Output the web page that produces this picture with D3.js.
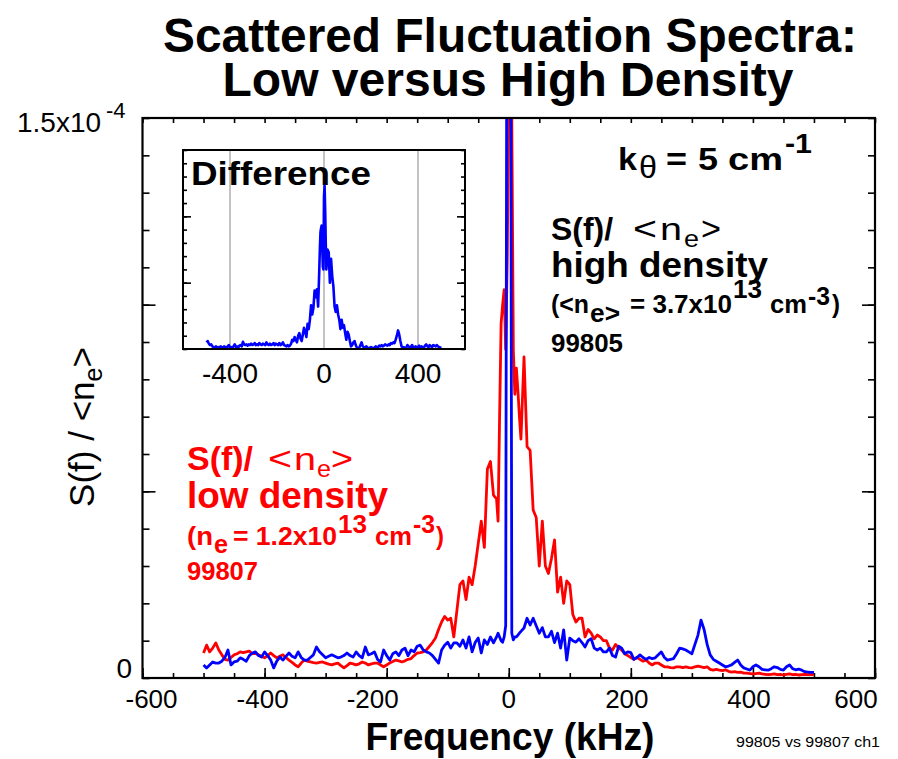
<!DOCTYPE html>
<html><head><meta charset="utf-8">
<script src="https://cdn.jsdelivr.net/npm/d3@7"></script>
<style>
html,body{margin:0;padding:0;background:#fff;}
svg{display:block;font-family:"Liberation Sans",Arial,Helvetica,sans-serif;}
</style>
</head><body>
<svg id="chart" width="898" height="759"></svg>
<script>
// ---------------- DATA ----------------
// frequency grid (kHz): 5 kHz steps, 2.5 kHz steps around the central peak
const freq = d3.range(-500, -20, 5).concat(d3.range(-20, 20, 2.5), d3.range(20, 505, 5));
// S(f)/<ne>, low density shot 99807 (units of 1e-6)
const lowDensity = [
  6.7, 8.8, 7, 8, 9.4, 7.5, 6.2, 5, 4.8, 5.5,
  6.2, 6.5, 7, 6.8, 7, 7.2, 6.5, 6.6, 6.2, 5.8,
  5.4, 6, 6.7, 6, 5.4, 5.8, 6.2, 5.5, 4.8, 4.2,
  3.5, 3, 4, 4.8, 4.5, 4.3, 4.1, 4, 4.2, 4.3,
  4, 3.7, 3.5, 3.8, 4, 3.3, 2.7, 3.3, 4, 3.8,
  3.5, 3.8, 4.3, 4, 3.5, 3.8, 4, 4, 3.5, 3,
  3.5, 4, 4.4, 4.8, 4.6, 4.3, 4.6, 5, 5.2, 6,
  6.7, 6.8, 7, 7.5, 8.5, 9.5, 10.7, 13, 15, 16.5,
  15.5, 16, 11, 18, 25, 26, 21, 27, 25, 30,
  36, 42, 35, 56, 58, 49,
  48, 42, 70, 95, 100, 104, 88, 112, 155, 160, 150, 88, 76, 83, 77, 70,
  64, 86, 62, 61, 45, 43,
  30, 42, 30, 28, 32, 37, 23, 27, 20, 26,
  25, 17, 15, 16, 16, 11, 13, 12, 10.5, 11.5,
  11, 10, 10, 8, 7.5, 9, 8, 7.5, 6.5, 6,
  5.5, 5, 5.5, 5, 4.5, 4.8, 4, 3.5, 4, 4,
  3.5, 3, 3, 2.8, 2.7, 3, 3, 2.8, 3, 2.8,
  2.7, 3, 3.2, 3, 2.8, 3, 2.3, 2.1, 2.3, 2.1,
  2, 2.2, 1.8, 1.6, 1.7, 1.5, 1.6, 1.3, 1.3, 1.2,
  1.1, 1.2, 1.3, 1.1, 1, 0.9, 1, 1.1, 0.9, 1,
  0.8, 1, 1.1, 0.9, 1, 0.8, 0.9, 1, 0.9, 1,
  0.9
];
// S(f)/<ne>, high density shot 99805 (units of 1e-6)
const highDensity = [
  3.5, 2.7, 3.5, 4.3, 4, 4, 4.5, 5.5, 7.5, 3.5,
  4.3, 4.5, 5.4, 5, 4.5, 6, 6.7, 7, 6, 5.6,
  7, 6, 4.8, 2.7, 4.5, 5.6, 4.8, 5.8, 6.7, 5.8,
  5.4, 7, 5.5, 4.8, 4.8, 5.5, 6.2, 8.3, 7, 6.2,
  5.4, 5.8, 6.2, 5.8, 5.4, 5.6, 6, 6.7, 6, 5.6,
  7, 6, 5.4, 8.3, 6.2, 6.5, 7, 5, 4.3, 7.5,
  6, 4.8, 6.5, 7, 6, 7.5, 8, 6, 7.5, 7,
  8.5, 8.8, 7.5, 7, 6.7, 6, 5, 4, 7.5, 8.8,
  9.6, 8, 9.4, 9.4, 8.5, 10.2, 8, 11, 7, 9.5,
  10.7, 6.7, 10.2, 9, 11, 9.4,
  11, 12, 11, 10, 9.6, 11, 14, 240, 240, 240, 12, 10.2, 11, 11, 11.5, 12,
  12.5, 13.4, 16, 14.2, 16, 14,
  12, 13.5, 11, 11, 12.5, 9.5, 12, 8, 12.9, 4.8,
  10.7, 10, 9.6, 10.5, 9.5, 8.3, 10, 10.5, 8, 7.5,
  8, 7, 7, 8, 6, 5.6, 8.5, 8, 6.5, 7,
  6.8, 5, 5.5, 6.2, 5.5, 5, 5.5, 5.2, 5.4, 6.2,
  7, 5.5, 4.8, 5, 5.2, 6.5, 8, 7.8, 7.5, 7,
  6.5, 9, 11.5, 15.5, 13, 9, 6.2, 5, 4.5, 4,
  3.5, 3, 3.2, 3.5, 4.2, 4.8, 3.5, 2.7, 2.4, 2.1,
  3, 3.5, 3, 2.3, 2.2, 2.1, 2.5, 3, 2.8, 2.3,
  2.1, 3, 3.5, 2.5, 2.2, 2.4, 2.1, 1.7, 1.6, 1.5,
  1.5
];
// inset "Difference" spectrum (arbitrary units)
const difference = [
  0.5, 0.6, 0.4, 0.3, 0.35, 0.2, 0.15, 0.1, 0.2, 0.1,
  0.15, 0.1, 0.2, 0.15, 0.1, 0.2, 0.15, 0.1, 0.2, 0.3,
  0.1, 0.15, 0.1, 0.2, 0.35, 0.15, 0.2, 0.1, 0.25, 0.3,
  0.2, 0.55, 0.35, 0.3, 0.35, 0.25, 0.35, 0.3, 0.4, 0.3,
  0.35, 0.45, 0.3, 0.35, 0.3, 0.45, 0.35, 0.3, 0.4, 0.35,
  0.3, 0.5, 0.35, 0.3, 0.4, 0.3, 0.35, 0.45, 0.3, 0.4,
  0.35, 0.3, 0.45, 0.3, 0.35, 0.5, 0.3, 0.25, 0.2, 0.3,
  0.2, 0.25, 0.4, 0.7, 0.6, 0.9, 0.7, 0.5, 1.0, 1.2,
  0.8, 0.6, 1.1, 1.6, 1.3, 0.9, 1.9, 1.5, 2.2, 3.3,
  2.6, 3.1, 4.4, 3.9, 4.5, 3.2,
  6, 7.6, 8.8, 9.1, 9.3, 7.8, 6.2, 6.0, 11.5, 12.3, 10.5, 8, 6, 6.6, 7.5, 7.4,
  7.3, 5, 6.8, 5.5, 4.7, 3.2,
  2.8, 3.3, 2.6, 2.2, 1.5, 2.2, 1.6, 1.8, 1.2, 0.7,
  1.3, 1.1, 0.6, 0.2, 0.3, 0.5, 0.6, 0.3, 0.1, 0.05,
  0.1, 0.3, 0.5, 0.2, 0.15, 0.1, 0.2, 0.1, 0.05, 0.1,
  0.15, 0.1, 0.05, 0.1, 0.2, 0.1, 0.15, 0.25, 0.2, 0.3,
  0.2, 0.25, 0.35, 0.3, 0.25, 0.35, 0.3, 0.45, 0.4, 0.5,
  0.45, 0.7, 1.0, 1.4, 1.1, 0.6, 0.2, 0.1, 0.15, 0.05,
  0.1, 0.3, 0.2, 0.1, 0.15, 0.3, 0.1, 0.15, 0.2, 0.1,
  0.15, 0.25, 0.1, 0.2, 0.15, 0.1, 0.25, 0.35, 0.2, 0.15,
  0.3, 0.2, 0.15, 0.3, 0.25, 0.2, 0.3, 0.2, 0.15, 0.1,
  0.1
];
const xTickLabels = [-600, -400, -200, 0, 200, 400, 600];
const insetTickLabels = [-400, 0, 400];

if (lowDensity.length !== freq.length || highDensity.length !== freq.length || difference.length !== freq.length) {
  throw new Error("length mismatch " + freq.length + " " + lowDensity.length + " " + highDensity.length + " " + difference.length);
}

// ---------------- LAYOUT ----------------
const W = 898, H = 759;
const M = {left: 142.5, right: 875, top: 118, bottom: 678};
const I = {left: 183, right: 465, top: 150, bottom: 349};
// horizontal nudges of x tick labels as placed in the original figure
const xLabelNudge = {"-600": 9, "-400": -2, "-200": -14, "0": 0, "200": -4, "400": -4, "600": -19};

const svg = d3.select("#chart");
svg.append("rect").attr("width", W).attr("height", H).attr("fill", "#fff");

const x = d3.scaleLinear().domain([-600, 600]).range([M.left, M.right]);
const y = d3.scaleLinear().domain([0, 150]).range([M.bottom, M.top]);

const defs = svg.append("defs");
defs.append("clipPath").attr("id", "clipMain").append("rect")
  .attr("x", M.left).attr("y", M.top).attr("width", M.right - M.left).attr("height", M.bottom - M.top);
defs.append("clipPath").attr("id", "clipInset").append("rect")
  .attr("x", I.left).attr("y", I.top).attr("width", I.right - I.left).attr("height", I.bottom - I.top);

function ticks(axisGen, transform, size, values) {
  const g = svg.append("g").attr("transform", transform)
    .call(axisGen.tickValues(values).tickSize(size).tickFormat(""));
  g.select(".domain").remove();
  g.selectAll("line").attr("stroke", "#000").attr("stroke-width", 1.6);
  return g;
}
ticks(d3.axisBottom(x), `translate(0,${M.bottom})`, -5, d3.range(-600, 601, 50));
ticks(d3.axisBottom(x), `translate(0,${M.bottom})`, -10, xTickLabels);
ticks(d3.axisTop(x), `translate(0,${M.top})`, -5, d3.range(-600, 601, 50));
ticks(d3.axisLeft(y), `translate(${M.left},0)`, -7, d3.range(0, 151, 10));
ticks(d3.axisLeft(y), `translate(${M.left},0)`, -13, [50, 100]);
ticks(d3.axisRight(y), `translate(${M.right},0)`, -7, d3.range(0, 151, 10));
ticks(d3.axisRight(y), `translate(${M.right},0)`, -13, [50, 100]);

const line = d3.line().x(d => x(d[0])).y(d => y(d[1]));
const plot = svg.append("g").attr("clip-path", "url(#clipMain)");
plot.append("path").datum(d3.zip(freq, lowDensity)).attr("d", line)
  .attr("fill", "none").attr("stroke", "#ff0000").attr("stroke-width", 2.8).attr("stroke-linejoin", "round");
plot.append("path").datum(d3.zip(freq, highDensity)).attr("d", line)
  .attr("fill", "none").attr("stroke", "#0000ff").attr("stroke-width", 2.8).attr("stroke-linejoin", "round");

svg.append("rect").attr("x", M.left).attr("y", M.top).attr("width", M.right - M.left).attr("height", M.bottom - M.top)
  .attr("fill", "none").attr("stroke", "#000").attr("stroke-width", 2.2);

svg.append("g").selectAll("text").data(xTickLabels).join("text")
  .attr("x", d => x(d) + xLabelNudge[String(d)]).attr("y", 708).attr("text-anchor", "middle")
  .attr("font-size", 26).attr("fill", "#000").text(d => d);

const yl = svg.append("text").attr("x", 17).attr("y", 132).attr("font-size", 28).attr("fill", "#000");
yl.append("tspan").text("1.5x10");
yl.append("tspan").attr("x", 106).attr("y", 118).attr("font-size", 22).text("-4");
svg.append("text").attr("x", 132).attr("y", 678).attr("text-anchor", "end").attr("font-size", 28).text("0");

const yt = svg.append("text").attr("transform", "translate(94,427) rotate(-90)")
  .attr("text-anchor", "middle").attr("font-size", 35).attr("fill", "#000");
yt.append("tspan").text("S(f) / <n");
yt.append("tspan").attr("font-size", 25).attr("dy", 8).text("e");
yt.append("tspan").attr("dy", -8).text(">");

svg.append("text").attr("x", 510).attr("y", 750).attr("text-anchor", "middle")
  .attr("font-size", 38).attr("font-weight", "bold").attr("textLength", 289).attr("lengthAdjust", "spacingAndGlyphs")
  .text("Frequency (kHz)");

svg.append("text").attr("x", 880).attr("y", 747).attr("text-anchor", "end")
  .attr("font-size", 15).attr("textLength", 144).attr("lengthAdjust", "spacingAndGlyphs")
  .text("99805 vs 99807 ch1");

svg.append("text").attr("x", 510).attr("y", 52).attr("text-anchor", "middle")
  .attr("font-size", 48).attr("font-weight", "bold").attr("textLength", 694).attr("lengthAdjust", "spacingAndGlyphs")
  .text("Scattered Fluctuation Spectra:");
svg.append("text").attr("x", 508).attr("y", 96).attr("text-anchor", "middle")
  .attr("font-size", 48).attr("font-weight", "bold").attr("textLength", 571).attr("lengthAdjust", "spacingAndGlyphs")
  .text("Low versus High Density");

// rich text helper: [text, x, baselineY, fontSize, weight, width]
function rich(color, parts) {
  const g = svg.append("g").attr("fill", color);
  parts.forEach(p => {
    const t = g.append("text").attr("x", p[1]).attr("y", p[2]).attr("font-size", p[3])
      .attr("font-weight", p[4] || "normal").text(p[0]);
    if (p[5]) t.attr("textLength", p[5]).attr("lengthAdjust", "spacingAndGlyphs");
  });
  return g;
}

rich("#000", [
  ["k", 618, 170, 32, "bold", 19],
  ["\u03B8", 639, 178, 32, "normal", 18],
  ["=", 666, 170, 32, "bold", 21],
  ["5", 698, 170, 32, "bold", 20],
  ["cm", 728, 170, 32, "bold", 55],
  ["-1", 785, 153, 28, "bold", 27]
]);

rich("#000", [
  ["S(f)/", 551, 240, 32, "bold", 62],
  ["<", 633, 240, 34, "normal", 24],
  ["n", 660, 240, 32, "normal", 22],
  ["e", 684, 247, 23, "normal", 15],
  [">", 701, 240, 34, "normal", 20],
  ["high density", 551, 277, 35, "bold", 217],
  ["(<n", 551, 313, 25, "bold", 38],
  ["e>", 590, 322, 25, "bold", 30],
  ["= 3.7x10", 630, 313, 25, "bold", 102],
  ["13", 733, 298, 25, "bold", 29],
  ["cm", 770, 313, 25, "bold", 37],
  ["-3", 808, 305, 25, "bold", 22],
  [")", 832, 313, 25, "bold", 8],
  ["99805", 551, 352, 25, "bold", 72]
]);

rich("#ff0000", [
  ["S(f)/", 187, 470, 34, "bold", 66],
  ["<", 268, 470, 34, "normal", 24],
  ["n", 294, 470, 32, "normal", 22],
  ["e", 317, 477, 23, "normal", 14],
  [">", 331, 470, 34, "normal", 22],
  ["low density", 187, 508, 36, "bold", 201],
  ["(n", 187, 545, 25, "bold", 26],
  ["e", 214, 553, 25, "bold", 14],
  ["= 1.2x10", 233, 545, 25, "bold", 104],
  ["13", 338, 533, 25, "bold", 29],
  ["cm", 375, 545, 25, "bold", 37],
  ["-3", 413, 533, 25, "bold", 22],
  [")", 436, 545, 25, "bold", 8],
  ["99807", 187, 580, 25, "bold", 71]
]);

// ---------------- INSET ----------------
const xi = d3.scaleLinear().domain([-600, 600]).range([I.left, I.right]);
const yi = d3.scaleLinear().domain([0, 15]).range([I.bottom, I.top]);
svg.append("rect").attr("x", I.left).attr("y", I.top).attr("width", I.right - I.left).attr("height", I.bottom - I.top)
  .attr("fill", "#fff");
svg.append("g").selectAll("line").data(insetTickLabels).join("line")
  .attr("x1", d => xi(d)).attr("x2", d => xi(d)).attr("y1", I.top).attr("y2", I.bottom)
  .attr("stroke", "#888").attr("stroke-width", 1);
ticks(d3.axisLeft(yi), `translate(${I.left},0)`, -4, d3.range(0, 16, 1));
ticks(d3.axisLeft(yi), `translate(${I.left},0)`, -8, [5, 10]);
ticks(d3.axisRight(yi), `translate(${I.right},0)`, -4, d3.range(0, 16, 1));
ticks(d3.axisRight(yi), `translate(${I.right},0)`, -8, [5, 10]);

svg.append("text").attr("x", 191).attr("y", 185).attr("font-size", 33).attr("font-weight", "bold")
  .attr("textLength", 180).attr("lengthAdjust", "spacingAndGlyphs").text("Difference");

const linei = d3.line().x(d => xi(d[0])).y(d => yi(d[1]));
svg.append("g").attr("clip-path", "url(#clipInset)").append("path")
  .datum(d3.zip(freq, difference)).attr("d", linei)
  .attr("fill", "none").attr("stroke", "#0000ff").attr("stroke-width", 2.6).attr("stroke-linejoin", "round");

svg.append("rect").attr("x", I.left).attr("y", I.top).attr("width", I.right - I.left).attr("height", I.bottom - I.top)
  .attr("fill", "none").attr("stroke", "#000").attr("stroke-width", 2);

svg.append("g").selectAll("text").data(insetTickLabels).join("text")
  .attr("x", d => xi(d)).attr("y", 383).attr("text-anchor", "middle")
  .attr("font-size", 28).attr("fill", "#000").text(d => d);
</script>
</body></html>
